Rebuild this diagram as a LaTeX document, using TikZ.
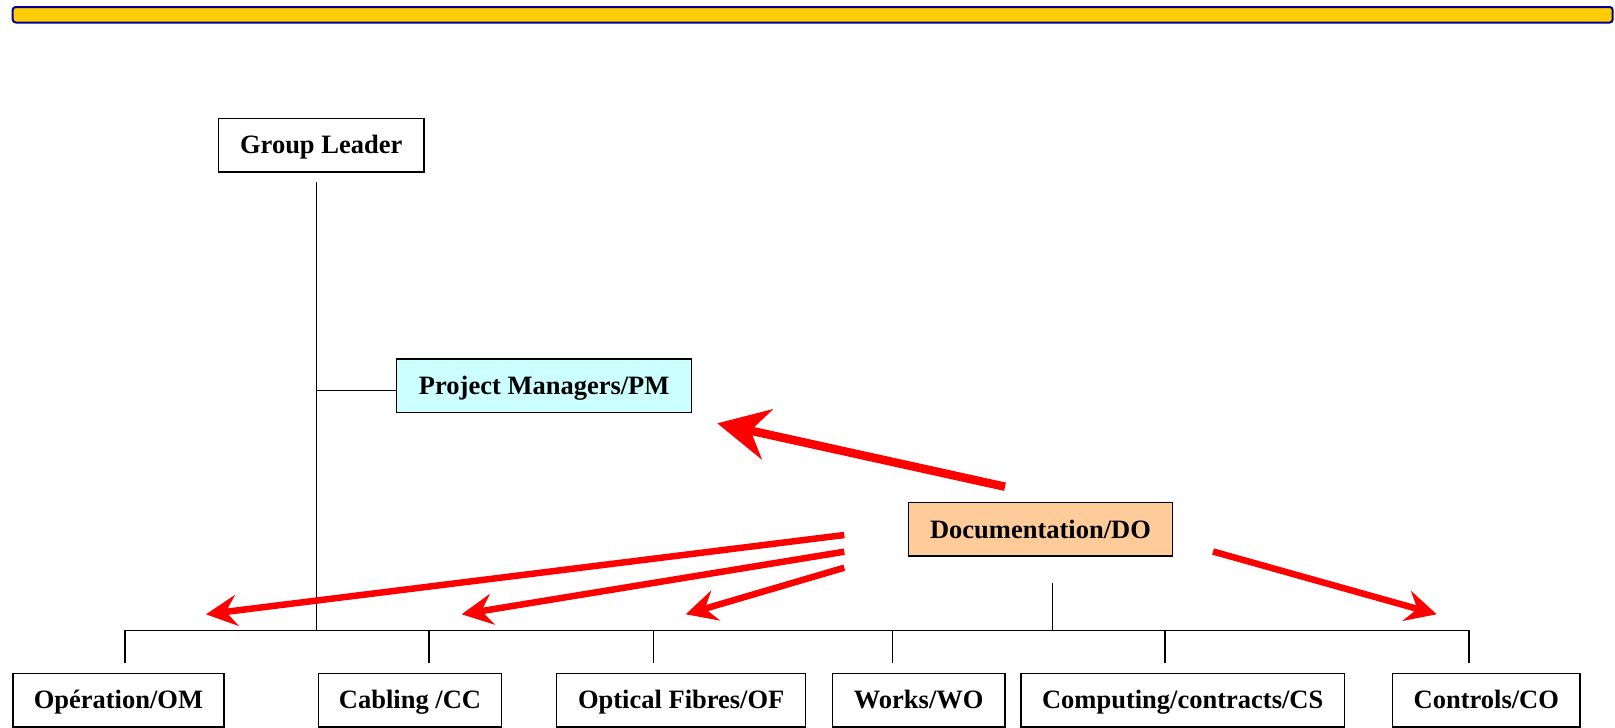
\documentclass[tikz,border=0pt]{standalone}
\usepackage{fontspec}
\setmainfont{Liberation Serif}
\usetikzlibrary{arrows.meta}
\definecolor{pmfill}{HTML}{CCFFFF}
\definecolor{dofill}{HTML}{FFCC99}
\definecolor{barfill}{HTML}{FFCC00}
\definecolor{barline}{HTML}{000099}
\begin{document}
\begin{tikzpicture}[x=1pt,y=-1pt,
  box/.style={draw=black,line width=1.5pt,inner sep=0pt,
    font=\fontsize{26.5}{30}\selectfont\bfseries,
    text height=17.5pt,text depth=0pt,minimum height=53.5pt},
  link/.style={line width=1.5pt,line cap=butt},
  redthin/.style={draw=red,line width=6.5pt,line cap=butt,
    -{Stealth[length=31pt,width=31pt,inset=11pt]}},
  redthick/.style={draw=red,line width=8.5pt,line cap=butt,
    -{Stealth[length=51pt,width=51pt,inset=17pt]}}]
\useasboundingbox (0,0) rectangle (1615,728);

% top bar
\draw[barline,fill=barfill,line width=2pt,rounded corners=3pt] (12.7,7) rectangle (1612.7,22.5);

% nodes
\node[box,minimum width=205.7pt] (gl) at (321.2,145.2) {Group Leader};
\node[box,fill=pmfill,minimum width=295pt] (pm) at (544.2,385.7) {Project Managers/PM};
\node[box,fill=dofill,minimum width=263.6pt] (do) at (1040.5,529.3) {Documentation/DO};

\node[box,minimum width=211.3pt] (om) at (118.4,700) {Opération/OM};
\node[box,minimum width=183.4pt] (cc) at (410,700) {Cabling /CC};
\node[box,minimum width=249pt] (of) at (681.2,700) {Optical Fibres/OF};
\node[box,minimum width=172.7pt] (wo) at (918.7,700) {Works/WO};
\node[box,minimum width=323.3pt] (cs) at (1182.7,700) {Computing/contracts/CS};
\node[box,minimum width=187.3pt] (co) at (1486.3,700) {Controls/CO};

% connector coordinates
\coordinate (glbot) at (316.7,182.3);
\coordinate (glbus) at (316.7,630.7);
\coordinate (pmj) at (316.7,390.7);
\coordinate (busL) at (125,630.7);
\coordinate (busR) at (1469,630.7);
\coordinate (dOM) at (125,662.7);
\coordinate (dCC) at (429,662.7);
\coordinate (dOF) at (653.3,662.7);
\coordinate (dWO) at (892.7,662.7);
\coordinate (dCS) at (1165,662.7);
\coordinate (dCO) at (1469,662.7);
\coordinate (dotop) at (1052.7,582.7);

% tree connectors
\draw[link] (glbot) -- (glbus);
\draw[link] (pmj) -- (pm.west |- pmj);
\draw[link,line join=miter] (dOM) -- (busL) -- (busR) -- (dCO);
\draw[link] (dCC |- busL) -- (dCC);
\draw[link] (dOF |- busL) -- (dOF);
\draw[link] (dWO |- busL) -- (dWO);
\draw[link] (dCS |- busL) -- (dCS);
\draw[link] (dotop) -- (dotop |- busL);

% red arrows
\coordinate (a0s) at (1005,486.7);
\coordinate (a0e) at (717.3,423.3);
\coordinate (a1s) at (844.3,535);
\coordinate (a1e) at (206,614.3);
\coordinate (a2s) at (844.3,551.7);
\coordinate (a2e) at (461.7,614.3);
\coordinate (a3s) at (844.3,567.7);
\coordinate (a3e) at (685.7,614.3);
\coordinate (a4s) at (1213,551.5);
\coordinate (a4e) at (1436.7,614.3);

\draw[redthick] (a0s) -- (a0e);
\draw[redthin] (a1s) -- (a1e);
\draw[redthin] (a2s) -- (a2e);
\draw[redthin] (a3s) -- (a3e);
\draw[redthin] (a4s) -- (a4e);
\end{tikzpicture}
\end{document}
